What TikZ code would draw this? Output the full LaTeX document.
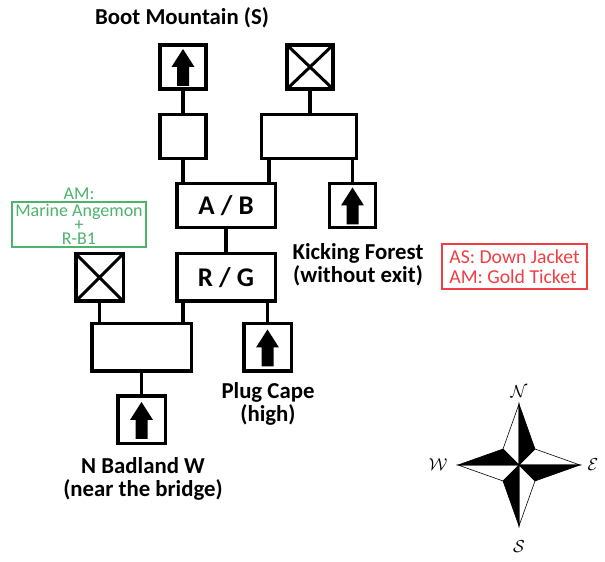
\documentclass[tikz,border=0pt]{standalone}
\usepackage{fontspec}
\setmainfont{Carlito}
\usetikzlibrary{positioning,calc}

\definecolor{notegreen}{RGB}{76,178,108}
\definecolor{notered}{RGB}{240,62,66}

\begin{document}
\begin{tikzpicture}[x=1pt, y=1pt,
    room/.style={draw, line width=3.5pt, inner sep=0pt, minimum width=46pt, minimum height=44pt},
    bigroom/.style={room, minimum width=47.5pt, minimum height=47.5pt},
    exitroom/.style={#1, path picture={
        \fill ($(path picture bounding box.center)+(0,18)$) -- ++(11.5,-18) -- ++(-5.5,0)
            -- ++(0,-19) -- ++(-12,0) -- ++(0,19) -- ++(-5.5,0) -- cycle;}},
    exitroom/.default=room,
    blockroom/.style={#1, path picture={
        \draw [line width=3pt] (path picture bounding box.south west) -- (path picture bounding box.north east)
            (path picture bounding box.north west) -- (path picture bounding box.south east);}},
    blockroom/.default=room,
    place/.style={font=\bfseries\fontsize{22.8}{23}\selectfont, align=center, inner sep=0pt},
    link/.style={line width=3.5pt}
]
        \useasboundingbox (0, 0) rectangle (605, 562);

        % rooms
        \node [exitroom] (bootexit) at (183, 495) {};
        \node [blockroom] (topblock) at (310, 495) {};
        \node [room] (nwroom) at (183, 425.5) {};
        \node [room, minimum width=95pt] (neroom) at (309, 425.5) {};
        \node [room, minimum width=98.5pt, font=\bfseries\fontsize{27}{27}\selectfont] (ab) at (226, 356.5) {A / B};
        \node [exitroom] (kickexit) at (352.5, 356.5) {};
        \node [room, minimum width=98.5pt, minimum height=47.5pt, font=\bfseries\fontsize{27}{27}\selectfont] (rg) at (226, 284.5) {R / G};
        \node [blockroom=bigroom] (wblock) at (99.5, 284.5) {};
        \node [room, minimum width=99.5pt, minimum height=47.5pt] (swroom) at (141.5, 214.5) {};
        \node [exitroom=bigroom] (plugexit) at (267.5, 214.5) {};
        \node [exitroom=bigroom] (badexit) at (141.5, 142) {};

        % corridors
        \draw [link] (bootexit) -- (nwroom);
        \draw [link] (topblock.south) -- (topblock.south |- neroom.north);
        \draw [link] (nwroom) -- (nwroom |- ab.north);
        \draw [link] ([xshift=-8]ab.north east) -- ([xshift=-8]ab.north east |- neroom.south);
        \draw [link] (kickexit) -- (kickexit |- neroom.south);
        \draw [link] (ab) -- (rg);
        \draw [link] (rg.south -| nwroom) -- (swroom.north -| nwroom);
        \draw [link] (plugexit) -- (plugexit |- rg.south);
        \draw [link] (wblock) -- (wblock |- swroom.north);
        \draw [link] (swroom) -- (badexit);

        % names
        \node [place] (bootname) at (182, 544) {Boot Mountain (S)};
        \node [place] (kickname) at (358, 297) {Kicking Forest\\(without exit)};
        \node [place] (plugname) at (268, 158) {Plug Cape\\(high)};
        \node [place] (badname) at (143, 83) {N Badland W\\(near the bridge)};

        % notes
        \node [draw=notegreen, line width=1.2pt, text=notegreen, minimum width=134pt, minimum height=45pt,
            inner sep=0pt, align=center, font=\fontsize{18}{14}\selectfont] (greennote) at (79, 337.5)
            {Marine Angemon\\+\\R-B1};
        \node [text=notegreen, inner sep=0pt, font=\fontsize{18}{14}\selectfont] (greentitle) at (79, 368) {AM:};
        \node [draw=notered, line width=1.2pt, text=notered, minimum width=145pt, minimum height=45pt,
            inner sep=3pt, align=left, font=\fontsize{19.7}{20}\selectfont] (rednote) at (514.5, 295.5)
            {AS: Down Jacket\\AM: Gold Ticket};

        % compass
        \coordinate (C) at (519, 97);
        \foreach \a in {90, 0, -90, 180} {
            \filldraw [line width=0.6pt] (C) -- +(\a:61) -- +(\a-45:22.6) -- cycle;
            \draw [line width=0.6pt] (C) -- +(\a:61) -- +(\a+45:22.6) -- cycle;
        }
        \node [font=\fontsize{18}{18}\selectfont] (north) at (519, 170) {$\mathcal{N}$};
        \node [font=\fontsize{18}{18}\selectfont] (south) at (519, 15) {$\mathcal{S}$};
        \node [font=\fontsize{18}{18}\selectfont] (west) at (438, 97) {$\mathcal{W}$};
        \node [font=\fontsize{18}{18}\selectfont] (east) at (593, 97) {$\mathcal{E}$};
    \end{tikzpicture}
\end{document}
